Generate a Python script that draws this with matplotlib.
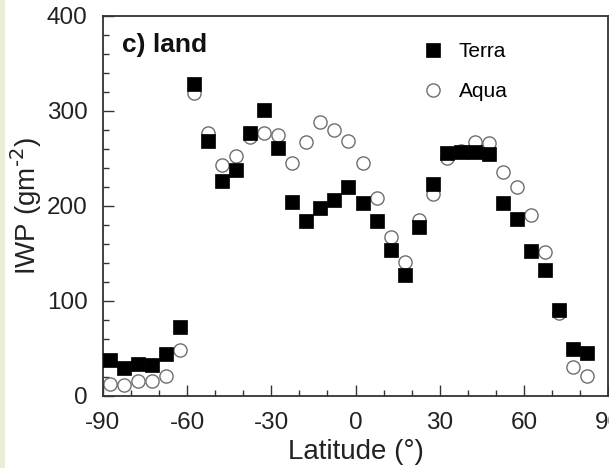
import matplotlib
matplotlib.use("Agg")
import matplotlib.pyplot as plt
from matplotlib.ticker import MultipleLocator
from matplotlib.patches import Rectangle

plt.rcParams['font.family'] = ['Liberation Sans', 'DejaVu Sans']
plt.rcParams['axes.unicode_minus'] = False

# latitude bin centres (deg)
lat = [-87.5, -82.5, -77.5, -72.5, -67.5, -62.5, -57.5, -52.5, -47.5, -42.5,
       -37.5, -32.5, -27.5, -22.5, -17.5, -12.5, -7.5, -2.5, 2.5, 7.5,
       12.5, 17.5, 22.5, 27.5, 32.5, 37.5, 42.5, 47.5, 52.5, 57.5,
       62.5, 67.5, 72.5, 77.5, 82.5]

terra = [38, 29, 33, 32, 44, 72, 328, 268, 226, 238,
         276, 301, 261, 204, 184, 198, 206, 220, 203, 184,
         153, 127, 178, 223, 255, 257, 256, 254, 203, 186,
         152, 132, 90, 49, 45]

aqua = [12, 11, 15, 16, 21, 48, 319, 277, 243, 252,
        272, 277, 274, 245, 267, 288, 280, 268, 245, 208,
        167, 141, 185, 212, 250, 258, 267, 266, 235, 220,
        190, 151, 87, 30, 21]

fig = plt.figure(figsize=(6.09, 4.68), dpi=100)
fig.patches.append(Rectangle((0, 0), 5 / 609, 1, transform=fig.transFigure,
                             facecolor='#e9eed9', edgecolor='none', zorder=0))
ax = fig.add_axes([103 / 609, 1 - 395.7 / 468, 505 / 609, 380 / 468])

ax.plot(lat, aqua, 'o', ms=9.5, mfc='white', mec='#6e6e6e', mew=1.0,
        label='Aqua', zorder=2)
ax.plot(lat, terra, 's', ms=9.5, mfc='black', mec='black', mew=0.5,
        label='Terra', zorder=3)

ax.set_xlim(-90, 90)
ax.set_ylim(0, 400)
ax.xaxis.set_major_locator(MultipleLocator(30))
ax.xaxis.set_minor_locator(MultipleLocator(10))
ax.yaxis.set_major_locator(MultipleLocator(100))
ax.yaxis.set_minor_locator(MultipleLocator(20))
ax.tick_params(which='both', direction='in', color='#333333', width=1.0,
               labelsize=17.5, labelcolor='#222222')
ax.tick_params(which='major', length=8)
ax.tick_params(which='minor', length=4)
ax.tick_params(axis='x', pad=12)
ax.tick_params(axis='y', pad=11)
for s in ax.spines.values():
    s.set_color('#333333')
    s.set_linewidth(1.3)

ax.set_xlabel('Latitude (°)', fontsize=20, color='#222222', labelpad=3)
ax.set_ylabel('IWP (gm$^{\\text{-2}}$)', fontsize=20, color='#222222',
              labelpad=2)

ax.text(0.038, 0.955, 'c) land', transform=ax.transAxes, fontsize=19,
        fontweight='bold', va='top', ha='left', color='#111111')

h, l = ax.get_legend_handles_labels()
ax.legend(h[::-1], l[::-1], loc='upper left', bbox_to_anchor=(0.595, 0.98),
          frameon=False, fontsize=15, handlelength=1.0, handletextpad=0.75,
          labelspacing=1.0)

fig.savefig('out.png', dpi=100)
